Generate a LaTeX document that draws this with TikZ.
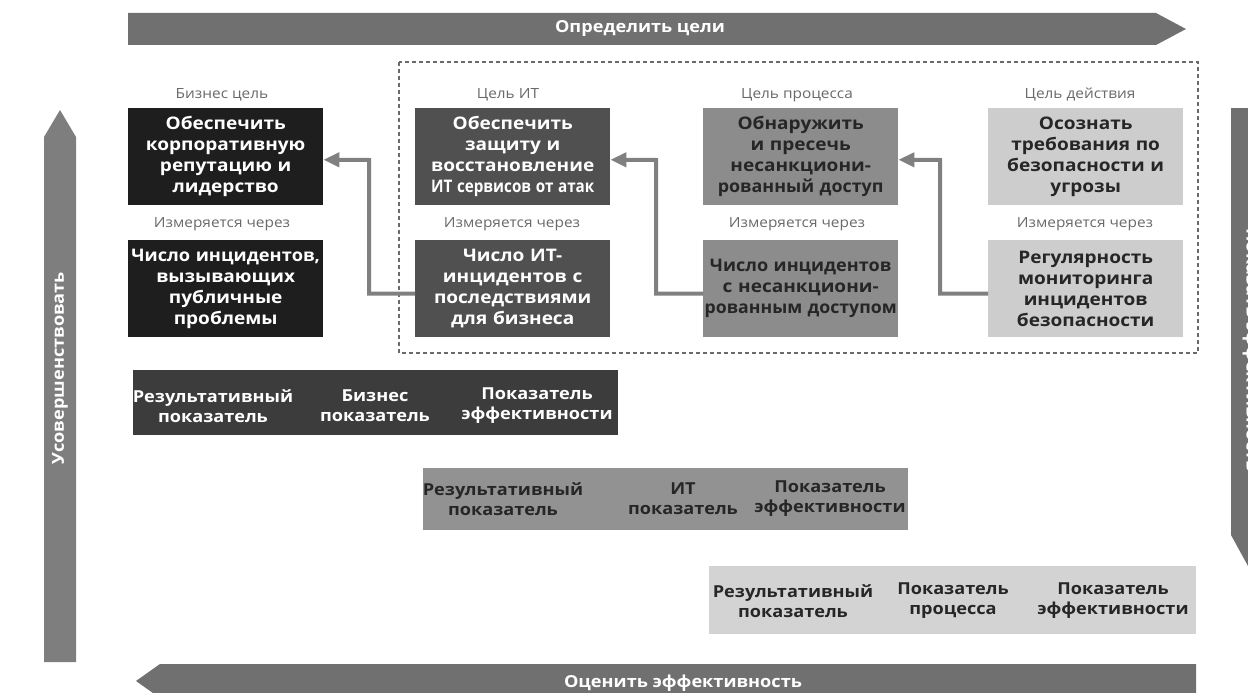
\documentclass[tikz,border=0pt]{standalone}
\usepackage{fontspec}
\setmainfont{Open Sans}
\newfontfamily\widefont{Open Sans}[FakeStretch=1.1]
\usetikzlibrary{arrows.meta}
\definecolor{arrowgray}{HTML}{707070}
\definecolor{leftgray}{HTML}{7E7E7E}
\definecolor{bizcol}{HTML}{1E1E1E}
\definecolor{itcol}{HTML}{505050}
\definecolor{proccol}{HTML}{8C8C8C}
\definecolor{actcol}{HTML}{CDCDCD}
\definecolor{barA}{HTML}{3C3C3C}
\definecolor{barB}{HTML}{929292}
\definecolor{barC}{HTML}{D3D3D3}
\definecolor{labgray}{HTML}{6A6A6A}
\definecolor{conngray}{HTML}{808080}
\definecolor{darktxt}{HTML}{262626}
\tikzset{
  goalbox/.style={anchor=north west, minimum width=195pt, minimum height=97pt, text width=195pt,
    align=center, inner sep=0pt, font=\widefont\bfseries\fontsize{17.3}{21}\selectfont},
  smalllab/.style={font=\widefont\fontsize{14}{16}\selectfont, text=labgray, inner sep=0pt},
  bartxt/.style={font=\widefont\bfseries\fontsize{16.5}{20}\selectfont, align=center, inner sep=0pt},
  arrtxt/.style={font=\widefont\bfseries\fontsize{16.5}{18}\selectfont, text=white, inner sep=0pt},
  conn/.style={draw=conngray, line width=4pt, -{Triangle[length=16pt,width=14pt]}},
}
\begin{document}
\begin{tikzpicture}[x=1pt,y=-1pt]
\useasboundingbox[fill=white] (0,0) rectangle (1248,693);

% big process arrows
\fill[arrowgray] (128,13) -- (1156,13) -- (1186,29) -- (1156,45) -- (128,45) -- cycle;
\node[arrtxt] (tTop) at (640,29) {Определить цели};
\fill[leftgray] (44,662) -- (44,137) -- (60,110) -- (76,137) -- (76,662) -- cycle;
\node[arrtxt, rotate=90] (tLeft) at (60,368) {Усовершенствовать};
\fill[arrowgray] (1231,108) -- (1265,108) -- (1265,535) -- (1248,566) -- (1231,535) -- cycle;
\node[arrtxt, rotate=-90] (tRight) at (1251,350) {Показать эффективность};
\fill[arrowgray] (1196,664) -- (160,664) -- (136,681) -- (160,698) -- (1196,698) -- cycle;
\node[arrtxt] (tBot) at (683,683) {Оценить эффективность};

% dashed frame
\draw[labgray, dashed, line width=1.2pt, dash pattern=on 4pt off 3pt] (399,62) rectangle (1198,353);

% labels
\node[smalllab] (lb1) at (222,95) {Бизнес цель};
\node[smalllab] (lb2) at (508,95) {Цель ИТ};
\node[smalllab] (lb3) at (797,95) {Цель процесса};
\node[smalllab] (lb4) at (1080,95) {Цель действия};
\node[smalllab] (lm1) at (222,224) {Измеряется через};
\node[smalllab] (lm2) at (512,224) {Измеряется через};
\node[smalllab] (lm3) at (797,224) {Измеряется через};
\node[smalllab] (lm4) at (1085,224) {Измеряется через};

% goal boxes
\node[goalbox, fill=bizcol, text=white] (bg) at (128,108) {Обеспечить\\корпоративную\\репутацию и\\лидерство};
\node[goalbox, fill=bizcol, text=white] (bm) at (128,240) {\scalebox{0.96}[1]{Число инцидентов,}\\вызывающих\\публичные\\проблемы};
\node[goalbox, fill=itcol, text=white] (ig) at (415,108) {Обеспечить\\защиту и\\восстановление\\\scalebox{0.8}[1]{ИТ сервисов от атак}};
\node[goalbox, fill=itcol, text=white] (im) at (415,240) {Число ИТ-\\инцидентов с\\последствиями\\для бизнеса};
\node[goalbox, fill=proccol, text=darktxt] (pg) at (703,108) {Обнаружить\\и пресечь\\несанкциони-\\\scalebox{0.94}[1]{рованный доступ}};
\node[goalbox, fill=proccol, text=darktxt] (pm) at (703,240) {\scalebox{0.95}[1]{Число инцидентов}\\с несанкциони-\\\scalebox{0.93}[1]{рованным доступом}};
\node[goalbox, fill=actcol, text=darktxt] (ag) at (988,108) {Осознать\\требования по\\безопасности и\\угрозы};
\node[goalbox, fill=actcol, text=darktxt] (am) at (988,240) {Регулярность\\мониторинга\\инцидентов\\безопасности};

% connectors
\coordinate (k1) at (369,160);
\coordinate (k2) at (656,160);
\coordinate (k3) at (940,160);
\draw[conn] ([yshift=-5pt]im.west) -| (k1) -- ([yshift=-3pt]bg.east);
\draw[conn] ([yshift=-5pt]pm.west) -| (k2) -- ([yshift=-3pt]ig.east);
\draw[conn] ([yshift=-5pt]am.west) -| (k3) -- ([yshift=-3pt]pg.east);

% metric bars
\node[anchor=north west, fill=barA, minimum width=485pt, minimum height=65pt, inner sep=0pt] (barOne) at (133,370) {};
\node[bartxt, text=white] (b1a) at (213,406) {Результативный\\показатель};
\node[bartxt, text=white] (b1b) at (375,406) {Бизнес\\показатель};
\node[bartxt, text=white] (b1c) at (537,406) {Показатель\\эффективности};

\node[anchor=north west, fill=barB, minimum width=485pt, minimum height=62pt, inner sep=0pt] (barTwo) at (423,468) {};
\node[bartxt, text=darktxt] (b2a) at (503,499) {Результативный\\показатель};
\node[bartxt, text=darktxt] (b2b) at (683,499) {ИТ\\показатель};
\node[bartxt, text=darktxt] (b2c) at (830,499) {Показатель\\эффективности};

\node[anchor=north west, fill=barC, minimum width=487pt, minimum height=68pt, inner sep=0pt] (barThree) at (709,566) {};
\node[bartxt, text=darktxt] (b3a) at (793,601) {Результативный\\показатель};
\node[bartxt, text=darktxt] (b3b) at (953,601) {Показатель\\процесса};
\node[bartxt, text=darktxt] (b3c) at (1113,601) {Показатель\\эффективности};
\end{tikzpicture}
\end{document}
